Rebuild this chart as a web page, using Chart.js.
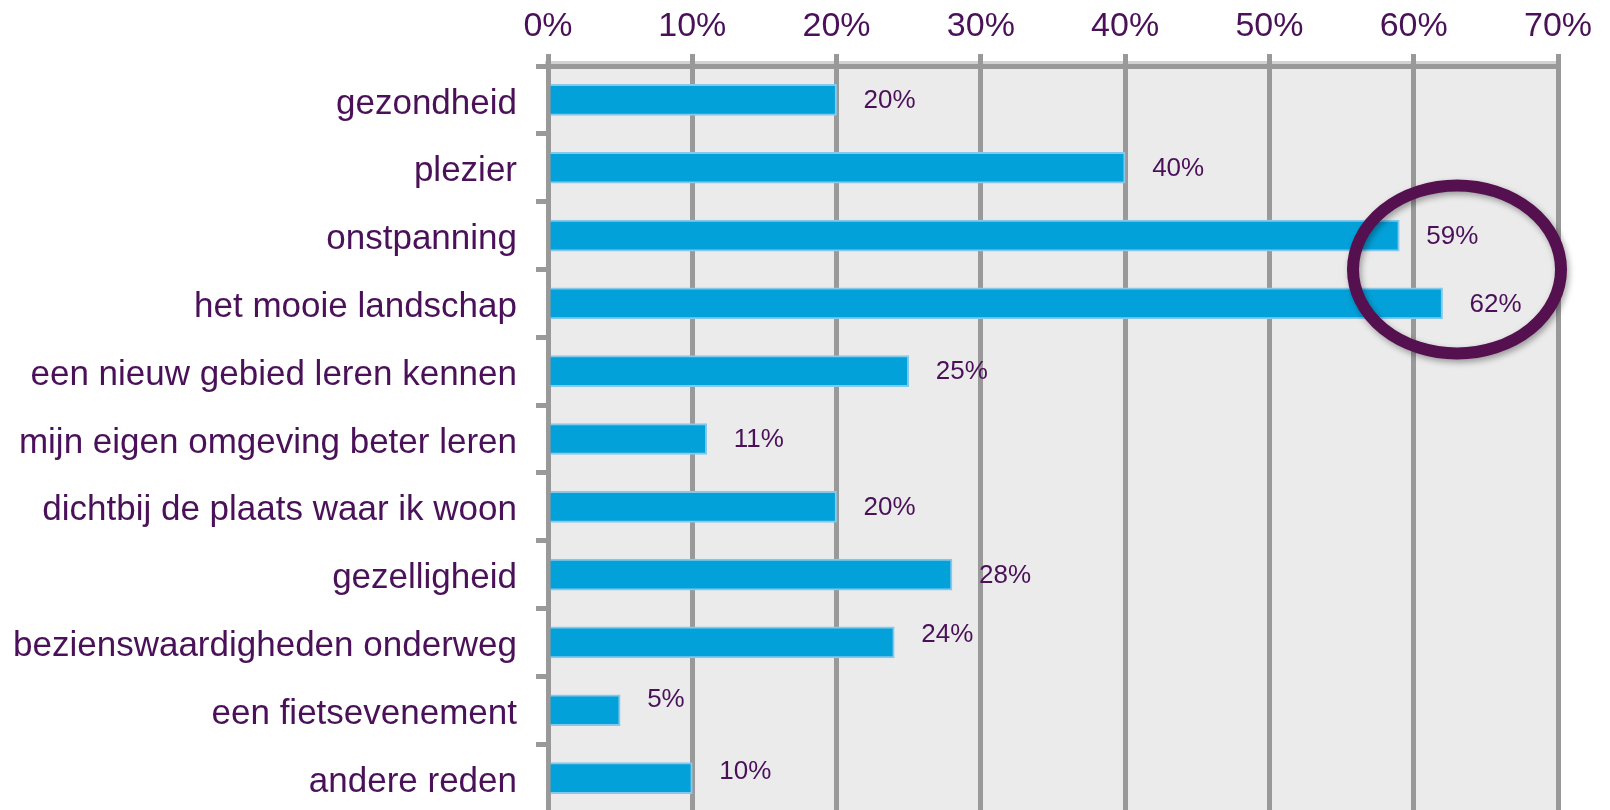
<!DOCTYPE html>
<html>
<head>
<meta charset="utf-8">
<script src="https://cdn.jsdelivr.net/npm/chart.js@4.4.0/dist/chart.umd.min.js"></script>
<style>
  html, body { margin: 0; padding: 0; background: #fff; overflow: hidden; }
  #wrap { width: 1610px; height: 810px; overflow: hidden; }
</style>
</head>
<body>
<div id="wrap"><canvas id="redenChart" width="1610" height="812"></canvas></div>
<script>
// data
const categories = [
  'gezondheid',
  'plezier',
  'onstpanning',
  'het mooie landschap',
  'een nieuw gebied leren kennen',
  'mijn eigen omgeving beter leren',
  'dichtbij de plaats waar ik woon',
  'gezelligheid',
  'bezienswaardigheden onderweg',
  'een fietsevenement',
  'andere reden'
];
const percentages = [20, 40, 59, 62, 25, 11, 20, 28, 24, 5, 10];
const tickValues = [0, 10, 20, 30, 40, 50, 60, 70];

const purple = '#4a1159';
const gridGrey = '#999999';
const font = "'Liberation Sans', Arial, sans-serif";

// grijze achtergrond van het plotvlak
const plotBackground = {
  id: 'plotBackground',
  beforeDraw(chart) {
    const { ctx, chartArea: a } = chart;
    ctx.save();
    ctx.fillStyle = '#ebebeb';
    ctx.fillRect(a.left, a.top, a.right - a.left, a.bottom - a.top);
    ctx.fillStyle = '#d2d2d2';
    ctx.fillRect(a.left - 3, a.top - 5, a.right - a.left + 3, 3);
    ctx.restore();
  }
};

// percentages naast de balken
const labelNudge = [1, 1, 1, 1, 1, 1, 1, 1, -8, -10, -6];
const valueLabels = {
  id: 'valueLabels',
  afterDatasetsDraw(chart) {
    const { ctx } = chart;
    const meta = chart.getDatasetMeta(0);
    ctx.save();
    ctx.font = '26px ' + font;
    ctx.fillStyle = purple;
    ctx.textAlign = 'left';
    ctx.textBaseline = 'middle';
    meta.data.forEach((bar, i) => {
      ctx.fillText(percentages[i] + '%', bar.x + 27, bar.y + labelNudge[i]);
    });
    ctx.restore();
  }
};

// ovaal rond de twee hoogste waarden
const highlight = {
  id: 'highlight',
  afterDraw(chart) {
    const { ctx, scales } = chart;
    const cx = scales.x.getPixelForValue(63);
    const cy = (scales.y.getPixelForValue(2) + scales.y.getPixelForValue(3)) / 2;
    ctx.save();
    ctx.shadowColor = 'rgba(0,0,0,0.35)';
    ctx.shadowBlur = 6;
    ctx.shadowOffsetX = 2;
    ctx.shadowOffsetY = 3;
    ctx.strokeStyle = '#55104f';
    ctx.lineWidth = 12;
    ctx.beginPath();
    ctx.ellipse(cx, cy, 104, 84, 0, 0, Math.PI * 2);
    ctx.stroke();
    ctx.restore();
  }
};

const ctx = document.getElementById('redenChart').getContext('2d');
new Chart(ctx, {
  type: 'bar',
  data: {
    labels: categories,
    datasets: [{
      data: percentages,
      backgroundColor: '#03a1da',
      borderColor: '#86c8ea',
      borderWidth: 2,
      borderSkipped: 'start',
      barThickness: 31
    }]
  },
  options: {
    indexAxis: 'y',
    responsive: false,
    animation: false,
    layout: { padding: { left: 0, right: 52, top: 0, bottom: 0 } },
    plugins: {
      legend: { display: false },
      tooltip: { enabled: false }
    },
    scales: {
      x: {
        position: 'top',
        min: 0,
        max: 70,
        afterFit: (s) => { s.height = 66; s.paddingLeft = 0; s.paddingRight = 0; },
        afterBuildTicks: (s) => { s.ticks = tickValues.map(v => ({ value: v })); },
        ticks: {
          color: purple,
          font: { family: font, size: 34 },
          padding: 7,
          callback: (v) => v + '%'
        },
        grid: { color: gridGrey, lineWidth: 5, tickLength: 12 },
        border: { color: gridGrey, width: 5 }
      },
      y: {
        afterFit: (s) => { s.width = 548; s.paddingTop = 0; s.paddingBottom = 0; },
        ticks: {
          color: purple,
          font: { family: font, size: 35 },
          padding: 19,
          labelOffset: 4
        },
        grid: { drawOnChartArea: false, color: gridGrey, lineWidth: 5, tickLength: 12 },
        border: { color: gridGrey, width: 5 }
      }
    }
  },
  plugins: [plotBackground, valueLabels, highlight]
});
</script>
</body>
</html>
